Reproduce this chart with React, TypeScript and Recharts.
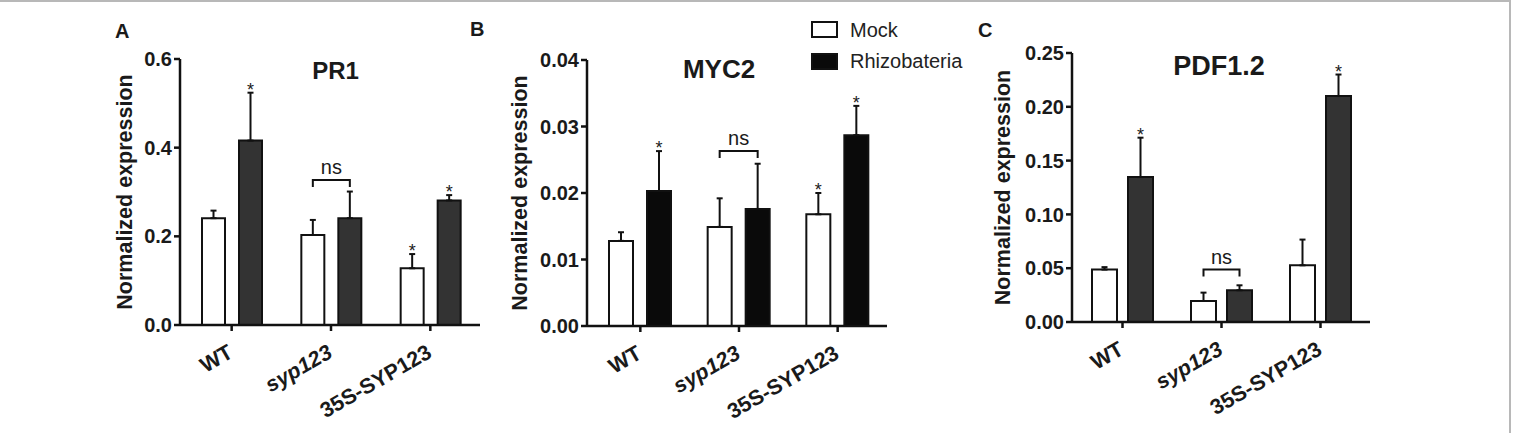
import React from 'react';
import { BarChart, Bar, XAxis, YAxis, ErrorBar, LabelList, Legend } from 'recharts';

// ---------- data ----------
const categories = ['WT', 'syp123', '35S-SYP123'];
const seriesNames = ['Mock', 'Rhizobateria'];
const yLabel = 'Normalized expression';
const panelLetters = ['A', 'B', 'C'];
const panelTitles = ['PR1', 'MYC2', 'PDF1.2'];

// PR1
const pr1Mock = [0.241, 0.203, 0.128];
const pr1MockErr = [0.017, 0.034, 0.032];
const pr1Rhizo = [0.416, 0.241, 0.281];
const pr1RhizoErr = [0.108, 0.06, 0.012];
const pr1MockStar = [false, false, true];
const pr1RhizoStar = [true, false, true];
const pr1Bracket = [null, 0.327, null];
const pr1Ticks = [0, 0.2, 0.4, 0.6];

// MYC2
const myc2Mock = [0.0128, 0.0149, 0.0168];
const myc2MockErr = [0.0013, 0.0043, 0.0032];
const myc2Rhizo = [0.0203, 0.0176, 0.0287];
const myc2RhizoErr = [0.006, 0.0068, 0.0044];
const myc2MockStar = [false, false, true];
const myc2RhizoStar = [true, false, true];
const myc2Bracket = [null, 0.0263, null];
const myc2Ticks = [0, 0.01, 0.02, 0.03, 0.04];

// PDF1.2
const pdfMock = [0.0487, 0.0195, 0.0527];
const pdfMockErr = [0.0023, 0.0078, 0.0239];
const pdfRhizo = [0.1347, 0.0295, 0.21];
const pdfRhizoErr = [0.0366, 0.0046, 0.02];
const pdfMockStar = [false, false, false];
const pdfRhizoStar = [true, false, true];
const pdfBracket = [null, 0.0487, null];
const pdfTicks = [0, 0.05, 0.1, 0.15, 0.2, 0.25];

// ---------- helpers ----------
const FONT = '"Liberation Sans", Arial, Helvetica, sans-serif';
const INK = '#1a1a1a';

function buildRows(mock: number[], mockErr: number[], rhizo: number[], rhizoErr: number[]) {
  return categories.map((c, i) => ({
    category: c,
    mock: mock[i],
    mockErr: [0, mockErr[i]],
    rhizo: rhizo[i],
    rhizoErr: [0, rhizoErr[i]],
  }));
}

function geom(props: any) {
  const vb = props.viewBox || {};
  const x = Number(props.x ?? vb.x);
  const y = Number(props.y ?? vb.y);
  const width = Number(props.width ?? vb.width);
  const height = Number(props.height ?? vb.height);
  return { x, y, width, height, index: props.index };
}

const makeStar = (values: number[], errs: number[], stars: boolean[]) => (props: any) => {
  const { x, y, width, height, index } = geom(props);
  if (!stars[index]) return null;
  const ppu = height / values[index];
  const top = y - errs[index] * ppu;
  return (
    <text x={x + width / 2} y={top + 3} textAnchor="middle" fontSize={18} fill={INK} fontFamily={FONT}>
      *
    </text>
  );
};

const makeBracket = (values: number[], bracket: (number | null)[], gap: number) => (props: any) => {
  const { x, y, width, height, index } = geom(props);
  const b = bracket[index];
  if (b == null) return null;
  const base = y + height;
  const ppu = height / values[index];
  const by = base - b * ppu;
  const x1 = x + width / 2;
  const x2 = x1 + width + gap;
  return (
    <g>
      <path d={`M${x1},${by + 7}V${by}H${x2}V${by + 7}`} stroke="#111" strokeWidth={2} fill="none" />
      <text x={(x1 + x2) / 2} y={by - 6} textAnchor="middle" fontSize={20} fill={INK} fontFamily={FONT}>
        ns
      </text>
    </g>
  );
};

const XTick = (props: any) => {
  const { x, y, payload } = props;
  return (
    <g transform={`translate(${x - 5},${y})`}>
      <text
        x={0}
        y={0}
        dy="0.72em"
        textAnchor="end"
        transform="rotate(-30)"
        fontSize={21.5}
        fontWeight="bold"
        fontStyle={payload.value === 'syp123' ? 'italic' : 'normal'}
        fill={INK}
        fontFamily={FONT}
      >
        {payload.value}
      </text>
    </g>
  );
};

const YLabel = (props: any) => {
  const vb = props.viewBox || { x: 0, y: 0, width: 0, height: 0 };
  const cx = vb.x + props.dx0;
  const cy = vb.y + vb.height / 2;
  return (
    <text
      x={cx}
      y={cy}
      transform={`rotate(-90, ${cx}, ${cy})`}
      textAnchor="middle"
      dominantBaseline="central"
      fontSize={21.5}
      fontWeight="bold"
      fill={INK}
      fontFamily={FONT}
    >
      {yLabel}
    </text>
  );
};

const legendFills = ['#ffffff', '#0a0a0a'];
const LegendContent = (props: any) => {
  const payload = props.payload || [];
  return (
    <div style={{ fontFamily: FONT }}>
      {payload.map((e: any, i: number) => (
        <div key={i} style={{ display: 'flex', alignItems: 'center', height: 31.5 }}>
          <svg width={27} height={17} style={{ display: 'block' }}>
            <rect x={1} y={1} width={25} height={15} fill={legendFills[i]} stroke="#111" strokeWidth={2} />
          </svg>
          <span style={{ marginLeft: 12, fontSize: 20, color: '#222', lineHeight: '20px' }}>{e.value}</span>
        </div>
      ))}
    </div>
  );
};

type PanelProps = {
  left: number;
  width: number;
  top: number;
  bottom: number;
  right: number;
  yAxisWidth: number;
  xPad: number;
  barSize: number;
  barGap: number;
  rhizoFill: string;
  labelX: number;
  mock: number[];
  mockErr: number[];
  rhizo: number[];
  rhizoErr: number[];
  mockStar: boolean[];
  rhizoStar: boolean[];
  bracket: (number | null)[];
  ticks: number[];
  digits: number;
  legend?: boolean;
};

function Panel(p: PanelProps) {
  const data = buildRows(p.mock, p.mockErr, p.rhizo, p.rhizoErr);
  const axisStroke = { stroke: '#111', strokeWidth: 2.5 };
  return (
    <div style={{ position: 'absolute', left: p.left, top: 0 }}>
      <BarChart
        width={p.width}
        height={433}
        data={data}
        margin={{ top: p.top, right: p.right, bottom: p.bottom, left: 0 }}
        barSize={p.barSize}
        barGap={p.barGap}
      >
        <XAxis
          dataKey="category"
          interval={0}
          height={80}
          tick={<XTick />}
          tickSize={6}
          tickMargin={12}
          tickLine={axisStroke}
          axisLine={axisStroke}
          padding={{ left: p.xPad, right: 0 }}
        />
        <YAxis
          type="number"
          domain={[p.ticks[0], p.ticks[p.ticks.length - 1]]}
          ticks={p.ticks}
          interval={0}
          width={p.yAxisWidth}
          tickFormatter={(v: number) => v.toFixed(p.digits)}
          tick={{ fontSize: 20, fontWeight: 'bold', fill: INK, fontFamily: FONT }}
          tickSize={6}
          tickMargin={2}
          tickLine={axisStroke}
          axisLine={axisStroke}
          label={<YLabel dx0={p.labelX} />}
        />
        {p.legend && (
          <Legend
            layout="vertical"
            align="center"
            verticalAlign="middle"
            content={<LegendContent />}
            wrapperStyle={{ position: 'absolute', top: 14, left: 311, width: 190, margin: 0 }}
          />
        )}
        <Bar
          dataKey="mock"
          name={seriesNames[0]}
          fill="#ffffff"
          stroke="#111"
          strokeWidth={2}
          isAnimationActive={false}
        >
          <ErrorBar dataKey="mockErr" direction="y" width={3} stroke="#111" strokeWidth={2} isAnimationActive={false} />
          <LabelList dataKey="mock" content={makeStar(p.mock, p.mockErr, p.mockStar)} />
          <LabelList dataKey="mock" content={makeBracket(p.mock, p.bracket, p.barGap)} />
        </Bar>
        <Bar
          dataKey="rhizo"
          name={seriesNames[1]}
          fill={p.rhizoFill}
          stroke="#111"
          strokeWidth={2}
          isAnimationActive={false}
        >
          <ErrorBar dataKey="rhizoErr" direction="y" width={3} stroke="#111" strokeWidth={2} isAnimationActive={false} />
          <LabelList dataKey="rhizo" content={makeStar(p.rhizo, p.rhizoErr, p.rhizoStar)} />
        </Bar>
      </BarChart>
    </div>
  );
}

export default function App() {
  return (
    <div
      style={{
        position: 'absolute',
        left: 0,
        top: 0,
        width: 1513,
        height: 433,
        background: '#fff',
        fontFamily: FONT,
        overflow: 'hidden',
      }}
    >
      <div
        style={{
          position: 'absolute',
          left: 0,
          top: 0,
          width: 1511,
          height: 433,
          borderTop: '2px solid #b8b8b8',
          borderRight: '2px solid #b8b8b8',
          boxSizing: 'border-box',
        }}
      />
      <Panel
        left={100}
        width={400}
        top={59}
        bottom={28}
        right={20}
        yAxisWidth={80}
        xPad={2}
        barSize={23}
        barGap={14}
        rhizoFill="#333333"
        labelX={25}
        mock={pr1Mock}
        mockErr={pr1MockErr}
        rhizo={pr1Rhizo}
        rhizoErr={pr1RhizoErr}
        mockStar={pr1MockStar}
        rhizoStar={pr1RhizoStar}
        bracket={pr1Bracket}
        ticks={pr1Ticks}
        digits={1}
      />
      <Panel
        left={500}
        width={490}
        top={60}
        bottom={27}
        right={103}
        yAxisWidth={87}
        xPad={4}
        barSize={24}
        barGap={14}
        rhizoFill="#0a0a0a"
        labelX={20}
        mock={myc2Mock}
        mockErr={myc2MockErr}
        rhizo={myc2Rhizo}
        rhizoErr={myc2RhizoErr}
        mockStar={myc2MockStar}
        rhizoStar={myc2RhizoStar}
        bracket={myc2Bracket}
        ticks={myc2Ticks}
        digits={2}
        legend
      />
      <Panel
        left={990}
        width={400}
        top={53}
        bottom={31}
        right={20}
        yAxisWidth={82}
        xPad={1}
        barSize={25}
        barGap={11}
        rhizoFill="#333333"
        labelX={13}
        mock={pdfMock}
        mockErr={pdfMockErr}
        rhizo={pdfRhizo}
        rhizoErr={pdfRhizoErr}
        mockStar={pdfMockStar}
        rhizoStar={pdfRhizoStar}
        bracket={pdfBracket}
        ticks={pdfTicks}
        digits={2}
      />
      <svg
        width={1513}
        height={433}
        style={{ position: 'absolute', left: 0, top: 0, pointerEvents: 'none' }}
      >
        <text x={115} y={38} fontSize={20} fontWeight="bold" fill={INK} fontFamily={FONT}>{panelLetters[0]}</text>
        <text x={470} y={36} fontSize={20} fontWeight="bold" fill={INK} fontFamily={FONT}>{panelLetters[1]}</text>
        <text x={978} y={36.5} fontSize={20} fontWeight="bold" fill={INK} fontFamily={FONT}>{panelLetters[2]}</text>
        <text x={335.5} y={79} textAnchor="middle" fontSize={24} fontWeight="bold" fill={INK} fontFamily={FONT}>{panelTitles[0]}</text>
        <text x={719} y={78} textAnchor="middle" fontSize={26} fontWeight="bold" fill={INK} fontFamily={FONT}>{panelTitles[1]}</text>
        <text x={1219} y={75} textAnchor="middle" fontSize={27} fontWeight="bold" fill={INK} fontFamily={FONT}>{panelTitles[2]}</text>
      </svg>
    </div>
  );
}
